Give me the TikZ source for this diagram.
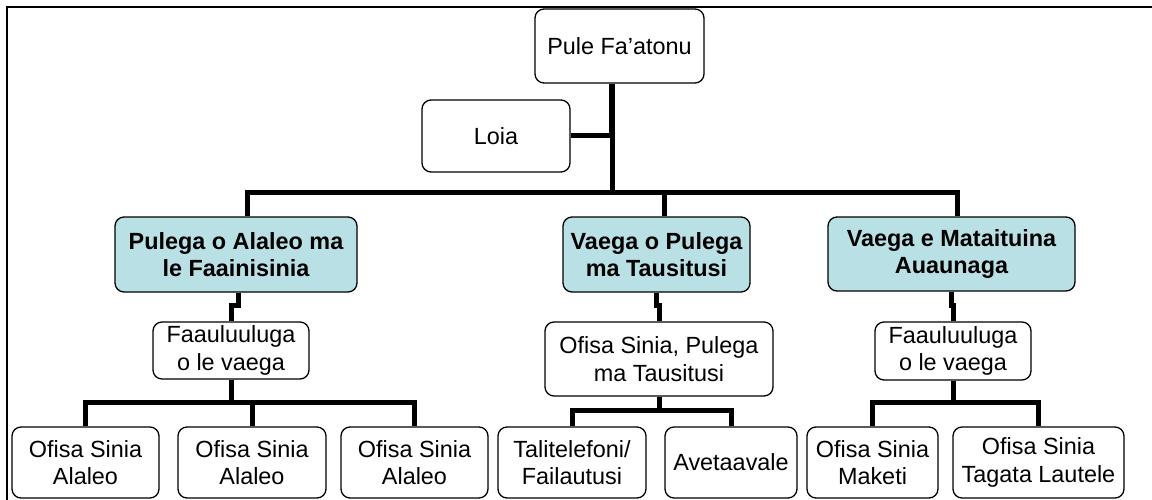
\documentclass[tikz,border=0pt]{standalone}
\usepackage{fontspec}
\setmainfont{Liberation Sans}
\usetikzlibrary{calc}
\definecolor{teal1}{RGB}{185,224,228}
\tikzset{
  box/.style={draw=black, line width=1.3pt, rounded corners=9pt, align=center,
    inner sep=0pt, fill=white, font=\fontsize{23.4}{27.5}\selectfont},
  tbox/.style={box, fill=teal1, font=\fontsize{23.4}{27}\selectfont\bfseries},
  conn/.style={line width=5pt, line join=miter, line cap=butt},
  trunk/.style={line width=6.5pt, line cap=butt},
  frame/.style={line width=2pt}
}
\begin{document}
\begin{tikzpicture}[x=1pt,y=-1pt]
\useasboundingbox (0,0) rectangle (1152,500);
% frame (top and left edges)
\coordinate (fTL) at (7,7);
\draw[frame] (1152,7) -- (fTL) -- (7,500);

% nodes
\node[box, minimum width=169pt, minimum height=74pt] (pule) at (619.5,46) {Pule Fa’atonu};
\node[box, minimum width=148pt, minimum height=72pt] (loia) at (496,136) {Loia};

\node[tbox, minimum width=242pt, minimum height=75pt] (b1) at (236,254.5) {Pulega o Alaleo ma\\le Faainisinia};
\node[tbox, minimum width=187pt, minimum height=75pt] (b2) at (656.5,254.5) {Vaega o Pulega\\ma Tausitusi};
\node[tbox, minimum width=247pt, minimum height=74pt] (b3) at (951.5,254) {Vaega e Mataituina\\Auaunaga};

\node[box, minimum width=156pt, minimum height=57pt] (f1) at (231,350.5) {Faauluuluga\\o le vaega};
\node[box, minimum width=228pt, minimum height=74pt] (f2) at (659,359) {Ofisa Sinia, Pulega\\ma Tausitusi};
\node[box, minimum width=156pt, minimum height=58pt] (f3) at (953,351) {Faauluuluga\\o le vaega};

\node[box, minimum width=147pt, minimum height=71pt] (o1) at (85.5,462.5) {Ofisa Sinia\\Alaleo};
\node[box, minimum width=148pt, minimum height=71pt] (o2) at (252,462.5) {Ofisa Sinia\\Alaleo};
\node[box, minimum width=147pt, minimum height=71pt] (o3) at (414.5,462.5) {Ofisa Sinia\\Alaleo};
\node[box, minimum width=148pt, minimum height=71pt] (t1) at (572,462.5) {Talitelefoni/\\Failautusi};
\node[box, minimum width=132pt, minimum height=71pt] (t2) at (731,462.5) {Avetaavale};
\node[box, minimum width=131pt, minimum height=71pt] (m1) at (872.5,462.5) {Ofisa Sinia\\Maketi};
\node[box, minimum width=171pt, minimum height=71pt] (m2) at (1038.5,462.5) {Ofisa Sinia\\Tagata Lautele};

% top connectors
\coordinate (tmid) at (612,137);
\coordinate (tj) at (612,193);
\draw[trunk] (pule.south -| tmid) -- (tmid);
\draw[conn] (tmid) -- (tj);
\draw[conn] (loia.east) -- (loia.east -| tmid);
\draw[conn] ([xshift=11pt]b1.north) -- ++(0,-24) -| ([xshift=5.5pt]b3.north);
\draw[conn] ([xshift=7.5pt]b2.north) -- ++(0,-24);

% level 2 to level 3
\draw[conn] ([xshift=2pt]b1.south) -- ++(0,13) -| (f1.north);
\draw[conn] (b2.south) -- ++(0,13) -| (f2.north);
\draw[conn] (b3.south) -- ++(0,14) -| (f3.north);

% group 1
\coordinate (g1) at ($(f1.south)+(0,23)$);
\draw[conn] (f1.south) -- (g1);
\draw[conn] (o1.north) |- (g1) -| (o3.north);
\draw[conn] (o2.north) -- (o2.north |- g1);

% group 2
\coordinate (g2) at ($(f2.south)+(0,14)$);
\draw[conn] (f2.south) -- (g2);
\draw[conn] (t1.north) |- (g2) -| (t2.north);

% group 3
\coordinate (g3) at ($(f3.south)+(0,22)$);
\draw[conn] (f3.south) -- (g3);
\draw[conn] (m1.north) |- (g3) -| (m2.north);
\end{tikzpicture}
\end{document}
